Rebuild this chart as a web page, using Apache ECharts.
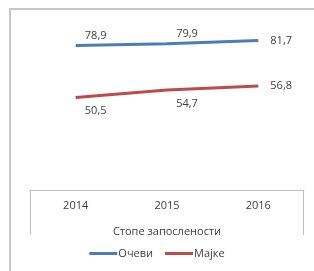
<!DOCTYPE html>
<html>
<head>
<meta charset="utf-8">
<script src="https://cdn.jsdelivr.net/npm/echarts@6/dist/echarts.min.js"></script>
<style>
  html, body { margin: 0; padding: 0; background: #fff; }
  #chart { width: 314px; height: 271px; }
</style>
</head>
<body>
<div id="chart"></div>
<script>
// Employment rates of fathers vs mothers, 2014–2016
const years = ['2014', '2015', '2016']
const fathers = [78.9, 79.9, 81.7]
const mothers = [50.5, 54.7, 56.8]
const seriesNames = ['Очеви', 'Мајке']
const axisTitle = 'Стопе запослености'

const FONT = '"Open Sans", "Noto Sans", sans-serif'
const TEXT = '#404040'

// Excel-style labels: first points shifted right, last one beside the line end
function labelled(values, side) {
  return values.map((v, i) => {
    const last = i === values.length - 1
    return {
      value: v,
      label: last
        ? { show: true, position: 'right', distance: 12 }
        : { show: true, position: side, distance: side === 'top' ? 4 : 8, offset: [20, 0] },
    }
  })
}

const fmt = p => String(p.value).replace('.', ',')

const chart = echarts.init(document.getElementById('chart'))
chart.setOption({
  animation: false,
  backgroundColor: '#fff',
  textStyle: { fontFamily: FONT, color: TEXT },
  grid: { left: 30, right: 10, top: 7, bottom: 81 },
  legend: {
    bottom: 7,
    left: 'center',
    icon: 'rect',
    itemWidth: 28,
    itemHeight: 3,
    itemGap: 12,
    data: seriesNames,
    textStyle: { color: TEXT, fontSize: 11, fontFamily: FONT, padding: [0, 0, 0, -4] },
  },
  xAxis: {
    type: 'category',
    data: years,
    boundaryGap: true,
    name: axisTitle,
    nameLocation: 'middle',
    nameGap: 36,
    nameTextStyle: { color: TEXT, fontSize: 11, fontFamily: FONT },
    axisLine: { lineStyle: { color: '#bfbfbf', width: 1 } },
    axisTick: { show: false },
    axisLabel: { color: TEXT, fontSize: 11, margin: 10, fontFamily: FONT },
  },
  yAxis: {
    type: 'value',
    min: 0,
    max: 100,
    show: false,
  },
  series: [
    {
      name: seriesNames[0],
      type: 'line',
      data: labelled(fathers, 'top'),
      symbol: 'circle',
      symbolSize: 0,
      showSymbol: true,
      lineStyle: { color: '#4a7ebb', width: 3 },
      itemStyle: { color: '#4a7ebb' },
      label: { show: true, color: TEXT, fontSize: 11, fontFamily: FONT, formatter: fmt },
    },
    {
      name: seriesNames[1],
      type: 'line',
      data: labelled(mothers, 'bottom'),
      symbol: 'circle',
      symbolSize: 0,
      showSymbol: true,
      lineStyle: { color: '#be4b48', width: 3 },
      itemStyle: { color: '#be4b48' },
      label: { show: true, color: TEXT, fontSize: 11, fontFamily: FONT, formatter: fmt },
    },
  ],
  graphic: [
    // outer chart frame (right/bottom edges fall outside the crop)
    { type: 'rect', shape: { x: 10, y: 9, width: 320, height: 280 }, style: { fill: 'none', stroke: '#c8c8c8', lineWidth: 2 }, silent: true },
    // category box side lines below the axis
    { type: 'line', shape: { x1: 30.5, y1: 190, x2: 30.5, y2: 235 }, style: { stroke: '#bfbfbf', lineWidth: 1 }, silent: true },
    { type: 'line', shape: { x1: 303.5, y1: 190, x2: 303.5, y2: 235 }, style: { stroke: '#bfbfbf', lineWidth: 1 }, silent: true },
  ],
})
</script>
</body>
</html>
